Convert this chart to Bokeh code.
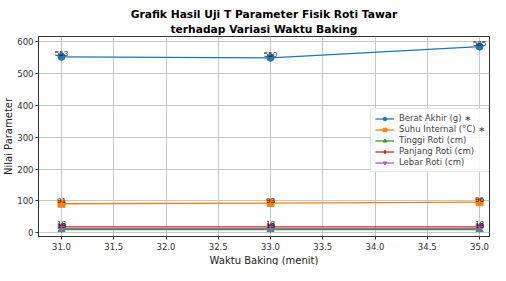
from bokeh.plotting import figure
from bokeh.models import Legend, LegendItem, ColumnDataSource, FixedTicker, NumeralTickFormatter, Range1d, Title
from bokeh.embed import file_html
from bokeh.resources import INLINE

waktu = [31, 33, 35]
berat = [553, 550, 585]
suhu = [91, 93, 96]
tinggi = [10, 10, 10]
panjang = [18, 18, 18]
lebar = [13, 13, 13]

series = [
    ("Berat Akhir (g) ∗", berat, "#1f77b4", "circle"),
    ("Suhu Internal (°C) ∗", suhu, "#ff7f0e", "square"),
    ("Tinggi Roti (cm)", tinggi, "#2ca02c", "triangle"),
    ("Panjang Roti (cm)", panjang, "#d62728", "diamond"),
    ("Lebar Roti (cm)", lebar, "#9467bd", "inverted_triangle"),
]

FONT = "DejaVu Sans"

p = figure(width=490, height=265, output_backend="svg", toolbar_location=None,
           x_range=Range1d(30.78, 35.095), y_range=Range1d(-12, 617),
           min_border_left=37, min_border_right=1, min_border_top=27, min_border_bottom=0)

p.add_layout(Title(text="terhadap Variasi Waktu Baking", align="center", text_font=FONT,
                   text_font_size="10.7px", text_font_style="bold", text_color="#000000",
                   standoff=1), "above")
p.add_layout(Title(text="Grafik Hasil Uji T Parameter Fisik Roti Tawar", align="center", text_font=FONT,
                   text_font_size="10.7px", text_font_style="bold", text_color="#000000",
                   standoff=0), "above")
p.add_layout(Title(text=" ", text_font_size="3px", standoff=0), "above")
p.add_layout(Title(text="Waktu Baking (menit)", align="center", text_font=FONT,
                   text_font_size="10px", text_font_style="normal", text_color="#222222",
                   standoff=0, offset=0), "below")

items = []
for name, vals, color, marker in series:
    src = ColumnDataSource(dict(x=waktu, y=vals, t=[str(v) for v in vals]))
    r1 = p.line("x", "y", source=src, line_color=color, line_width=1.3)
    r2 = p.scatter("x", "y", source=src, marker=marker, size=7, fill_color=color, line_color=color)
    p.text("x", "y", text="t", source=src, text_align="center", text_baseline="middle",
           text_font_size="8px", text_color="#222222", y_offset=-3)
    items.append(LegendItem(label=name, renderers=[r1, r2]))

legend = Legend(items=items, label_text_font=FONT, label_text_font_size="8.5px",
                label_height=9, glyph_height=9, glyph_width=19, spacing=1, padding=4, margin=0,
                border_line_color="#cccccc", background_fill_alpha=0.85, label_standoff=5)
legend.location = (332, 64)
p.add_layout(legend, "center")

p.xaxis.ticker = FixedTicker(ticks=[31.0, 31.5, 32.0, 32.5, 33.0, 33.5, 34.0, 34.5, 35.0])
p.xaxis.formatter = NumeralTickFormatter(format="0.0")
p.yaxis.ticker = FixedTicker(ticks=[0, 100, 200, 300, 400, 500, 600])
p.yaxis.axis_label = "Nilai Parameter"
for ax in (p.xaxis, p.yaxis):
    ax.axis_label_text_font = FONT
    ax.axis_label_text_font_size = "10px"
    ax.axis_label_text_font_style = "normal"
    ax.axis_label_text_color = "#222222"
    ax.major_label_text_font = FONT
    ax.major_label_text_font_size = "8.5px"
    ax.major_label_text_color = "#333333"
    ax.minor_tick_line_color = None
    ax.major_tick_out = 3
    ax.major_tick_in = 0
    ax.axis_line_color = "#333333"
    ax.major_tick_line_color = "#333333"
    ax.major_label_standoff = 2
p.xaxis.major_label_standoff = 3
p.yaxis.axis_label_standoff = 0
p.grid.grid_line_color = "#c8c8c8"
p.grid.grid_line_width = 1
p.outline_line_color = "#333333"

open("out.html", "w").write(file_html(p, INLINE))
